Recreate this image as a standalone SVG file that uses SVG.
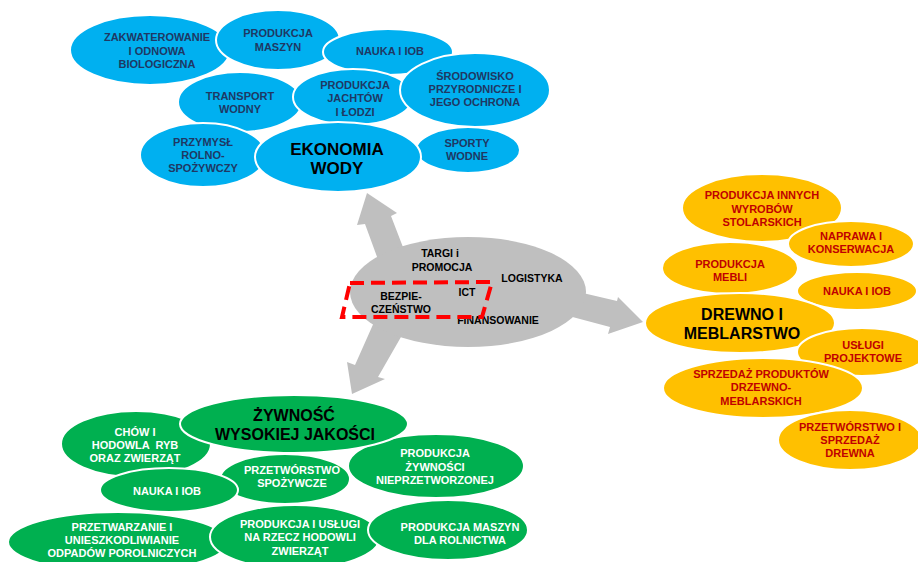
<svg xmlns="http://www.w3.org/2000/svg" width="918" height="562" viewBox="0 0 918 562">
<style>
text{font-family:"Liberation Sans",Arial,sans-serif;font-weight:bold;text-anchor:middle}
.b ellipse{fill:#00B0F0;stroke:#fff;stroke-width:2}
.b text{fill:#1F3864;font-size:11px}
.o ellipse{fill:#FFC000;stroke:#fff;stroke-width:2}
.o text{fill:#C00000;font-size:11px}
.g ellipse{fill:#00B050;stroke:#fff;stroke-width:2}
.g text{fill:#fff;font-size:11px}
.main text{fill:#000;font-size:17px}
.arrow{fill:#BFBFBF}
.c text{fill:#000;font-size:10.5px}
</style>
<g id="connectors">
<polygon class="arrow" points="367,193 397,213 391,216 406,255 380,265 365,224 357,225"/>
<polygon class="arrow" points="352,394 347,362 355,365 375,320 405,330 378,377 385,379"/>
<polygon class="arrow" points="643,322 618,297 617,301 570,290 565,315 610,327 608,334"/>
</g>
<g id="center" class="c">
<ellipse cx="468" cy="292" rx="118" ry="55" fill="#BFBFBF"/>
<text x="440" y="257">TARGI i</text>
<text x="442" y="271">PROMOCJA</text>
<text x="532" y="282">LOGISTYKA</text>
<text x="401" y="300">BEZPIE-</text>
<text x="401" y="313">CZEŃSTWO</text>
<text x="467" y="296">ICT</text>
<text x="498" y="324">FINANSOWANIE</text>
<polygon points="350,283 492,282 482,317 342,317" fill="none" stroke="#FF0000" stroke-width="4" stroke-dasharray="14 7"/>
</g>
<g id="blue" class="b">
<g id="zakwaterowanie"><ellipse cx="150" cy="50" rx="80" ry="35"/><text x="157" y="41">ZAKWATEROWANIE</text><text x="157" y="55">I ODNOWA</text><text x="157" y="68">BIOLOGICZNA</text></g>
<g id="produkcja-maszyn"><ellipse cx="278" cy="40" rx="62" ry="30"/><text x="278" y="37">PRODUKCJA</text><text x="278" y="51">MASZYN</text></g>
<g id="nauka-b"><ellipse cx="388" cy="52" rx="65" ry="23"/><text x="390" y="55">NAUKA I IOB</text></g>
<g id="transport"><ellipse cx="240" cy="102" rx="62" ry="30"/><text x="240" y="100">TRANSPORT</text><text x="240" y="113">WODNY</text></g>
<g id="jachty"><ellipse cx="353" cy="97" rx="60" ry="28"/><text x="355" y="89">PRODUKCJA</text><text x="355" y="102">JACHTÓW</text><text x="355" y="116">I ŁODZI</text></g>
<g id="sporty"><ellipse cx="468" cy="150" rx="52" ry="23"/><text x="467" y="147">SPORTY</text><text x="467" y="160">WODNE</text></g>
<g id="srodowisko"><ellipse cx="475" cy="90" rx="75" ry="37"/><text x="475" y="80">ŚRODOWISKO</text><text x="475" y="93">PRZYRODNICZE I</text><text x="475" y="106">JEGO OCHRONA</text></g>
<g id="przemysl"><ellipse cx="203" cy="155" rx="63" ry="32"/><text x="203" y="146">PRZYMYSŁ</text><text x="203" y="159">ROLNO-</text><text x="203" y="172">SPOŻYWCZY</text></g>
<g id="ekonomia" class="main"><ellipse cx="338" cy="157" rx="83" ry="35"/><text x="337" y="155">EKONOMIA</text><text x="337" y="174">WODY</text></g>
</g>
<g id="orange" class="o">
<g id="stolarskie"><ellipse cx="762" cy="208" rx="80" ry="34"/><text x="762" y="199">PRODUKCJA INNYCH</text><text x="762" y="213">WYROBÓW</text><text x="762" y="226">STOLARSKICH</text></g>
<g id="naprawa"><ellipse cx="851" cy="244" rx="63" ry="23"/><text x="851" y="240">NAPRAWA I</text><text x="851" y="253">KONSERWACJA</text></g>
<g id="meble"><ellipse cx="730" cy="268" rx="68" ry="26"/><text x="730" y="268">PRODUKCJA</text><text x="730" y="281">MEBLI</text></g>
<g id="nauka-o"><ellipse cx="857" cy="291" rx="60" ry="19"/><text x="857" y="295">NAUKA I IOB</text></g>
<g id="drewno" class="main"><ellipse cx="740" cy="323" rx="95" ry="30"/><text x="742" y="320" style="font-size:16px">DREWNO I</text><text x="742" y="339" style="font-size:16px">MEBLARSTWO</text></g>
<g id="uslugi"><ellipse cx="862" cy="352" rx="65" ry="24"/><text x="863" y="349">USŁUGI</text><text x="863" y="362">PROJEKTOWE</text></g>
<g id="sprzedaz"><ellipse cx="763" cy="388" rx="100" ry="30"/><text x="761" y="378">SPRZEDAŻ PRODUKTÓW</text><text x="761" y="391">DRZEWNO-</text><text x="761" y="405">MEBLARSKICH</text></g>
<g id="przetworstwo-drewna"><ellipse cx="850" cy="440" rx="72" ry="30"/><text x="850" y="431">PRZETWÓRSTWO I</text><text x="850" y="444">SPRZEDAŻ</text><text x="850" y="457">DREWNA</text></g>
</g>
<g id="green" class="g">
<g id="chow"><ellipse cx="136" cy="444" rx="75" ry="33"/><text x="135" y="436">CHÓW I</text><text x="135" y="449" xml:space="preserve">HODOWLA  RYB</text><text x="135" y="462">ORAZ ZWIERZĄT</text></g>
<g id="przetworstwo-spoz"><ellipse cx="285" cy="479" rx="65" ry="25"/><text x="292" y="474">PRZETWÓRSTWO</text><text x="292" y="487">SPOŻYWCZE</text></g>
<g id="nieprzetworzona"><ellipse cx="436" cy="466" rx="88" ry="32"/><text x="435" y="457">PRODUKCJA</text><text x="435" y="471">ŻYWNOŚCI</text><text x="435" y="484">NIEPRZETWORZONEJ</text></g>
<g id="zywnosc" class="main"><ellipse cx="294" cy="424" rx="114" ry="29"/><text x="294" y="421" style="font-size:16px">ŻYWNOŚĆ</text><text x="295" y="440" style="font-size:16px">WYSOKIEJ JAKOŚCI</text></g>
<g id="nauka-g"><ellipse cx="169" cy="490" rx="69" ry="22"/><text x="167" y="495">NAUKA I IOB</text></g>
<g id="odpady"><ellipse cx="118" cy="542" rx="110" ry="30"/><text x="122" y="531">PRZETWARZANIE I</text><text x="122" y="544">UNIESZKODLIWIANIE</text><text x="122" y="557">ODPADÓW POROLNICZYCH</text></g>
<g id="hodowla"><ellipse cx="295" cy="537" rx="85" ry="32"/><text x="300" y="528">PRODUKCJA I USŁUGI</text><text x="300" y="541">NA RZECZ HODOWLI</text><text x="300" y="555">ZWIERZĄT</text></g>
<g id="maszyny-rol"><ellipse cx="448" cy="530" rx="80" ry="30"/><text x="460" y="531">PRODUKCJA MASZYN</text><text x="460" y="544">DLA ROLNICTWA</text></g>
</g>
</svg>
